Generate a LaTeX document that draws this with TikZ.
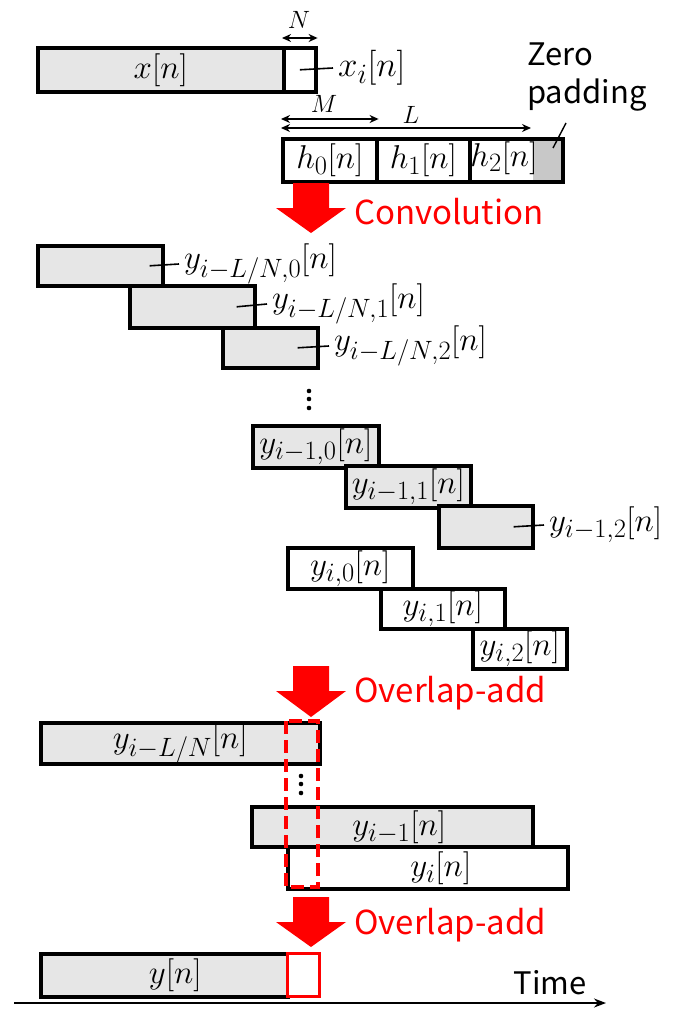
\RequirePackage{fix-cm}
\documentclass[tikz,border=0pt]{standalone}
\usepackage{fontspec}
\newfontfamily\gothic{Noto Sans CJK JP}
\usetikzlibrary{arrows.meta}
% larger subscripts at the sizes used for the signal names
\DeclareMathSizes{33}{33}{26.5}{20}
\DeclareMathSizes{35}{35}{28}{21}
\DeclareMathSizes{25}{25}{18}{13}
\definecolor{boxgray}{HTML}{E6E6E6}
\definecolor{padgray}{HTML}{C8C8C8}
\definecolor{opred}{HTML}{FF0000}
\tikzset{
  blk/.style={draw, line width=3.6pt, inner sep=0pt, anchor=north west},
  graybox/.style={blk, fill=boxgray},
  whitebox/.style={blk, fill=white},
  mth/.style={font=\fontsize{33}{38}\selectfont, inner sep=1pt},
  tag/.style={mth, anchor=west, inner xsep=5pt},
  dimlab/.style={font=\fontsize{25}{28}\selectfont, inner sep=0pt},
  tick/.style={line width=1.6pt},
  dim/.style={line width=1.4pt, {Stealth[length=9pt,width=8pt]}-{Stealth[length=9pt,width=8pt]}},
  caption/.style={font=\gothic\fontsize{33}{38}\selectfont, text=opred, anchor=west, inner sep=0pt},
  bigarrow/.style={fill=opred, draw=none},
  redframe/.style={draw=opred, line width=3.2pt},
  dot/.style={circle, fill=black, inner sep=0pt, minimum size=4.6pt},
}
\begin{document}
\begin{tikzpicture}[x=1pt, y=-1pt]
\useasboundingbox (0,0) rectangle (684,1009);

% ---------- input signal and filter partitions ----------
\node[graybox, minimum width=246pt, minimum height=44pt, mth] (xn) at (36,46) {$x[n]$};
\node[whitebox, minimum width=32pt, minimum height=44pt] (xi) at (282,46) {};
\node[tag, font=\fontsize{35}{40}\selectfont] (xil) at (333,68) {$x_i[n]$};
\draw[tick] (xi.center) -- (xil.west);
\coordinate (nA) at ([yshift=8pt]xi.north west);
\coordinate (nB) at ([yshift=8pt]xi.north east);
\draw[dim] (nA) -- (nB);
\node[dimlab] (nlab) at (299,20) {$N$};

\node[whitebox, minimum width=94pt, minimum height=43pt, mth] (h0) at (281,137) {$h_0[n]$};
\node[whitebox, minimum width=93pt, minimum height=43pt, mth] (h1) at (375,137) {$h_1[n]$};
\node[blk, minimum width=93pt, minimum height=43pt,
      path picture={\fill[padgray] ([xshift=-30pt]path picture bounding box.north east)
                    rectangle (path picture bounding box.south east);}] (h2) at (468,137) {};
\node[mth] (h2t) at (504,158) {$h_2[n]$};

\coordinate (mA) at ([yshift=18pt]h0.north west);
\coordinate (mB) at ([yshift=18pt]h0.north east);
\draw[dim] (mA) -- (mB);
\node[dimlab] (mlab) at (324,104) {$M$};
\coordinate (lA) at ([yshift=9pt]h0.north west);
\coordinate (lB) at (531,128);
\draw[dim] (lA) -- (lB);
\node[dimlab] (llab) at (411,115) {$L$};

\node[font=\gothic\fontsize{31}{38}\selectfont, align=left, anchor=north west, inner sep=0pt] (zp) at (527,43) {Zero\\padding};
\coordinate (padin) at (553,148);
\coordinate (padtip) at (566,123);
\draw[line width=1.4pt] (padin) -- (padtip);

% ---------- convolution ----------
\fill[bigarrow] (293,183) -- (329,183) -- (329,208) -- (346,208) -- (311,233) -- (276,208) -- (293,208) -- cycle;
\node[caption] (conv) at (354,212) {Convolution};

\node[graybox, minimum width=125pt, minimum height=40pt] (c0) at (36,244) {};
\node[tag] (c0l) at (179,264) {$y_{i-L/N,0}[n]$};
\draw[tick] ([xshift=-15pt]c0.east) -- (c0l.west);
\node[graybox, minimum width=125pt, minimum height=42pt] (c1) at (128,284) {};
\node[tag] (c1l) at (267,304) {$y_{i-L/N,1}[n]$};
\draw[tick] ([xshift=-20pt]c1.east) -- (c1l.west);
\node[graybox, minimum width=95pt, minimum height=40pt] (c2) at (221,326) {};
\node[tag] (c2l) at (329,346) {$y_{i-L/N,2}[n]$};
\draw[tick] ([xshift=-22pt]c2.east) -- (c2l.west);

% vertical ellipsis
\node[dot] (v1a) at (309,391) {};
\node[dot] (v1b) at (309,399) {};
\node[dot] (v1c) at (309,408) {};

\node[graybox, minimum width=126pt, minimum height=42pt, mth] (d0) at (251,424) {$y_{i-1,0}[n]$};
\node[graybox, minimum width=125pt, minimum height=42pt, mth] (d1) at (344,464) {$y_{i-1,1}[n]$};
\node[graybox, minimum width=94pt, minimum height=42pt] (d2) at (437,504) {};
\node[tag] (d2l) at (544,525) {$y_{i-1,2}[n]$};
\draw[tick] ([xshift=-21pt]d2.east) -- (d2l.west);

\node[whitebox, minimum width=125pt, minimum height=41pt, mth] (e0) at (286,546) {$y_{i,0}[n]$};
\node[whitebox, minimum width=124pt, minimum height=40pt, mth] (e1) at (379,587) {$y_{i,1}[n]$};
\node[whitebox, minimum width=94pt, minimum height=40pt, mth] (e2) at (471,627) {$y_{i,2}[n]$};

% ---------- first overlap-add ----------
\fill[bigarrow] (293,666) -- (329,666) -- (329,691) -- (346,691) -- (311,717) -- (276,691) -- (293,691) -- cycle;
\node[caption] (oa1) at (354,693) {Overlap-add};

\node[graybox, minimum width=279pt, minimum height=41pt] (f0) at (39,721) {};
\node[mth] (f0t) at (f0.center) {$y_{i-L/N}[n]$};
\node[graybox, minimum width=281pt, minimum height=40pt] (f1) at (250,805) {};
\node[mth] (f1t) at ([xshift=7pt]f1.center) {$y_{i-1}[n]$};
\node[whitebox, minimum width=280pt, minimum height=42pt] (f2) at (286,845) {};
\node[mth] (f2t) at ([xshift=13pt]f2.center) {$y_i[n]$};
\node[dot] (v2a) at (301,776) {};
\node[dot] (v2b) at (301,784) {};
\node[dot] (v2c) at (301,793) {};
\draw[redframe, dashed, dash pattern=on 13pt off 6pt] (286,721) rectangle (318,887);

% ---------- second overlap-add ----------
\fill[bigarrow] (293,897) -- (329,897) -- (329,922) -- (346,922) -- (311,947) -- (276,922) -- (293,922) -- cycle;
\node[caption] (oa2) at (354,925) {Overlap-add};

\node[graybox, minimum width=247pt, minimum height=43pt] (g0) at (39,952) {};
\node[mth] (g0t) at ([xshift=11pt]g0.center) {$y[n]$};
\node[whitebox, draw=opred, line width=3.2pt, minimum width=32pt, minimum height=43pt] (g1) at (286,952) {};

% ---------- time axis ----------
\coordinate (t0) at (14,1003);
\coordinate (t1) at (606,1003);
\draw[line width=2pt, -{Stealth[length=12pt,width=9pt]}] (t0) -- (t1);
\node[font=\gothic\fontsize{31}{38}\selectfont, inner sep=0pt] (time) at (550,983) {Time};
\end{tikzpicture}
\end{document}
